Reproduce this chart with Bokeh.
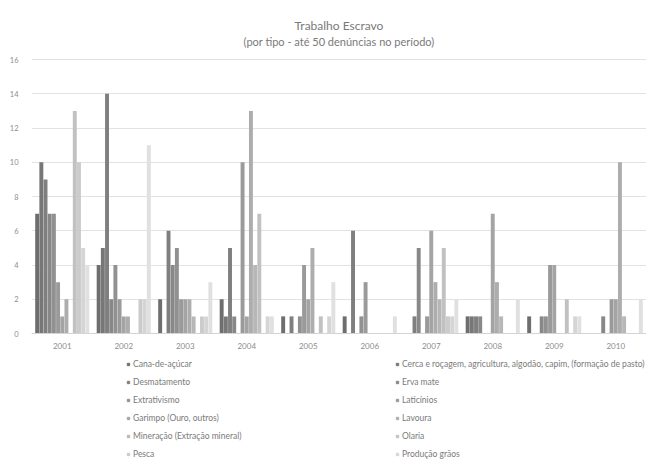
from bokeh.plotting import figure
from bokeh.models import Range1d, FactorRange, FixedTicker, Legend, LegendItem, ColumnDataSource, Span
from bokeh.core.properties import value
from bokeh.transform import dodge
from bokeh.embed import file_html
from bokeh.resources import INLINE

years = ["2001", "2002", "2003", "2004", "2005", "2006", "2007", "2008", "2009", "2010"]

title_main = "Trabalho Escravo"
title_sub = "(por tipo - até 50 denúncias no período)"

names = [
    "Cana-de-açúcar",
    "Cerca e roçagem, agricultura, algodão, capim, (formação de pasto)",
    "Desmatamento",
    "Erva mate",
    "Extrativismo",
    "Laticínios",
    "Garimpo (Ouro, outros)",
    "Lavoura",
    "Mineração (Extração mineral)",
    "Olaria",
    "Pesca",
    "Produção grãos",
    "Outros",
]

s01 = [7, 4, 2, 2, 1, 1, 0, 1, 1, 0]
s02 = [10, 5, 0, 1, 0, 0, 0, 1, 0, 0]
s03 = [9, 14, 6, 5, 1, 6, 1, 1, 0, 0]
s04 = [7, 2, 4, 1, 0, 0, 5, 1, 1, 1]
s05 = [7, 4, 5, 0, 1, 1, 0, 0, 1, 0]
s06 = [3, 2, 2, 10, 4, 3, 1, 0, 4, 2]
s07 = [1, 1, 2, 1, 2, 0, 6, 7, 4, 2]
s08 = [2, 1, 2, 13, 5, 0, 3, 3, 0, 10]
s09 = [0, 0, 1, 4, 0, 0, 2, 1, 0, 1]
s10 = [13, 0, 0, 7, 1, 0, 5, 0, 2, 0]
s11 = [10, 2, 1, 0, 0, 0, 1, 0, 0, 0]
s12 = [5, 2, 1, 1, 1, 0, 1, 0, 1, 0]
s13 = [4, 11, 3, 1, 3, 1, 2, 2, 1, 2]

series = [s01, s02, s03, s04, s05, s06, s07, s08, s09, s10, s11, s12, s13]

colors = ["#6e6e6e", "#777777", "#7f7f7f", "#888888", "#919191", "#9a9a9a", "#a4a4a4",
          "#adadad", "#b7b7b7", "#c1c1c1", "#cbcbcb", "#d5d5d5", "#e0e0e0"]

FONT = "Lato"
TXT = "#7a7a7a"

W, H = 646, 459
TOP, BASE, LEFT = 59, 333, 31
Y_MAX = 16
PX = (BASE - TOP) / Y_MAX          # pixels per unit
Y_MIN = -(H - BASE) / PX           # frame spans the full height so title/legend are not clipped
Y_TOP = Y_MAX + TOP / PX

p = figure(width=W, height=H, output_backend="svg", toolbar_location=None,
           title=None,
           x_range=FactorRange(factors=years), y_range=Range1d(Y_MIN, Y_TOP),
           min_border_left=LEFT, min_border_right=0, min_border_top=0, min_border_bottom=0)
p.outline_line_color = None

bw = 0.068
for j, vals in enumerate(series):
    src = ColumnDataSource(dict(year=years, top=vals))
    p.vbar(x=dodge("year", (j - 6) * bw, range=p.x_range), top="top", bottom=0,
           width=bw * 0.94, source=src, fill_color=colors[j], line_color=None)

# axes
p.yaxis.ticker = FixedTicker(ticks=[0, 2, 4, 6, 8, 10, 12, 14, 16])
p.yaxis.axis_line_color = None
p.yaxis.major_tick_line_color = None
p.yaxis.major_tick_out = 0
p.yaxis.major_tick_in = 0
p.yaxis.minor_tick_line_color = None
p.yaxis.major_label_text_font_size = "7.5px"
p.yaxis.major_label_text_color = "#8c8c8c"
p.yaxis.major_label_text_font = FONT
p.yaxis.major_label_standoff = 13

p.xaxis.visible = False
p.xgrid.grid_line_color = None
p.ygrid.grid_line_color = "#e2e2e2"
p.ygrid.grid_line_width = 1

p.add_layout(Span(location=0, dimension="width", line_color="#d4d4d4", line_width=1))

# category labels under the baseline
lab = ColumnDataSource(dict(year=years, y=[-12 / PX] * len(years)))
p.text(x="year", y="y", text="year", source=lab, text_align="center", text_baseline="middle",
       text_font_size="8px", text_color="#8c8c8c", text_font=value(FONT))

# title and subtitle, centred over the plot area (boundary between 5th and 6th category)
mid = years[len(years) // 2 - 1]
ttl = ColumnDataSource(dict(x=[mid, mid], y=[Y_MAX + (TOP - 25) / PX, Y_MAX + (TOP - 41) / PX],
                            t=[title_main, title_sub], fs=["12px", "11px"]))
p.text(x=dodge("x", 0.5, range=p.x_range), y="y", text="t", source=ttl,
       text_align="center", text_baseline="middle", text_font_size="fs",
       text_color=TXT, text_font=value(FONT))

# legend: two columns, row-wise order; glyph-only placeholder renderers kept off-range
dummies = [p.scatter(x=[years[0]], y=[Y_MIN - 100], marker="square", size=5,
                     fill_color=colors[j], line_color=colors[j]) for j in range(12)]

common = dict(orientation="vertical", glyph_width=6, glyph_height=10, label_height=10,
              spacing=8, padding=0, margin=0, label_standoff=2,
              label_text_font_size="8.5px", label_text_color=TXT, label_text_font=FONT,
              background_fill_alpha=0, border_line_color=None)

leg_l = Legend(items=[LegendItem(label=names[j], renderers=[dummies[j]]) for j in range(0, 12, 2)],
               location=(94, 0), **common)
leg_r = Legend(items=[LegendItem(label=names[j], renderers=[dummies[j]]) for j in range(1, 12, 2)],
               location=(363, 0), **common)
p.add_layout(leg_l)
p.add_layout(leg_r)

open("out.html", "w").write(file_html(p, INLINE))
